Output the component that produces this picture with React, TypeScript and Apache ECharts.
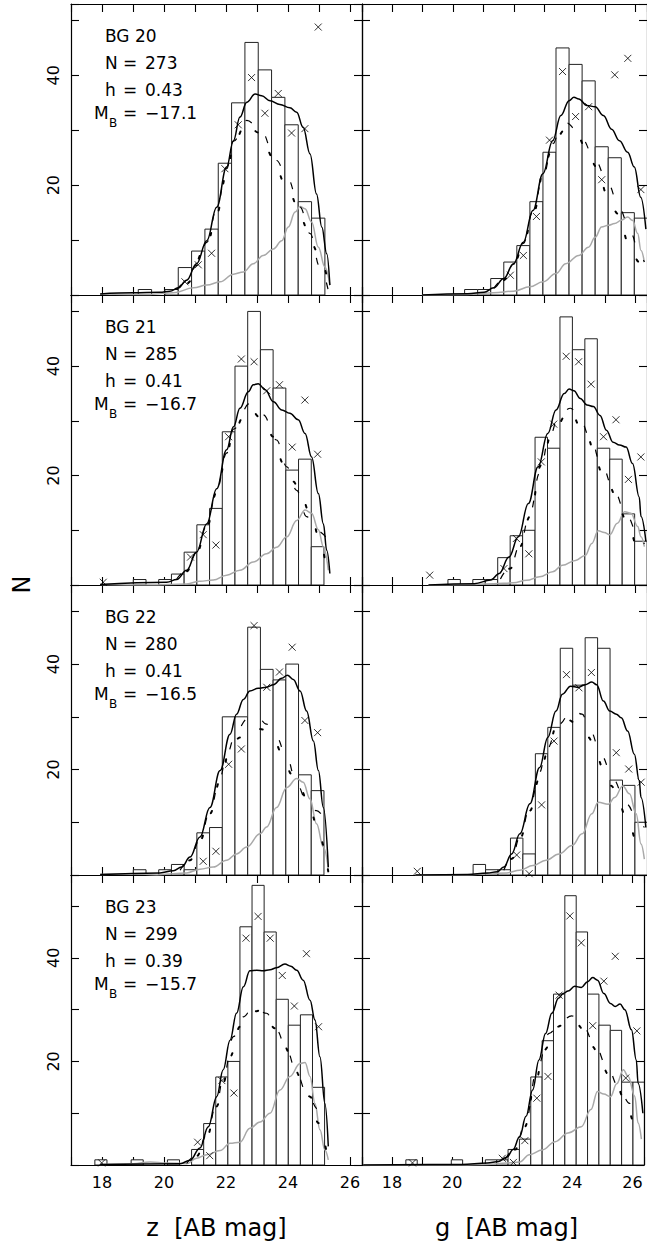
import React, { useEffect, useRef } from "react";
import * as echarts from "echarts";

// ---------- data ----------
const galaxies = ["BG 20", "BG 21", "BG 22", "BG 23"];
const nObj = ["273", "285", "280", "299"];
const hVal = ["0.43", "0.41", "0.41", "0.39"];
const mB = ["−17.1", "−16.7", "−16.5", "−15.7"];
const xTickLabels = ["18", "20", "22", "24", "26"];
const yTickLabels = ["20", "40"];
const rowYMax = [53, 53, 55, 56];
const xRange = [17, 26.387];

const zHistStart = [19.17, 19.01, 19.01, 17.77];
const zHistWidth = [0.43, 0.41, 0.41, 0.39];
const zHistCounts = [
  [1, 0, 1, 5, 8, 12, 24, 35, 46, 41, 36, 31, 17, 14],
  [1, 0, 1, 2, 6, 11, 14, 28, 40, 50, 43, 36, 21, 23, 7],
  [1, 0, 1, 2, 1, 8, 9, 30, 30, 47, 39, 37, 40, 19, 16],
  [1, 0, 0, 1, 0, 0, 1, 0, 3, 8, 17, 20, 46, 54, 45, 32, 27, 29, 15],
];
const gHistStart = [20.38, 19.83, 20.66, 18.46];
const gHistWidth = [0.43, 0.41, 0.41, 0.378];
const gHistCounts = [
  [1, 1, 3, 6, 9, 17, 26, 45, 42, 39, 27, 25, 15, 14],
  [1, 0, 1, 1, 5, 9, 10, 27, 25, 49, 43, 45, 25, 23, 13, 8],
  [2, 1, 1, 7, 4, 23, 28, 43, 36, 45, 43, 18, 17, 10],
  [1, 0, 0, 0, 1, 0, 0, 1, 1, 3, 5, 17, 24, 33, 52, 45, 33, 27, 26, 16, 16],
];

const zCross = [
  [[20.675, 2.4], [21.105, 5.5], [21.535, 7.6], [21.965, 23], [22.395, 31], [22.825, 39.6], [23.255, 33.1], [23.685, 36.7], [24.115, 29.5], [24.545, 30.3], [24.975, 48.8]],
  [[18.04, 0.5], [20.855, 5.1], [21.265, 9.2], [21.675, 7.3], [22.085, 27.1], [22.495, 41.3], [22.905, 40.8], [23.315, 35.5], [23.725, 36.6], [24.135, 25.2], [24.545, 33.8], [24.955, 23.9]],
  [[21.265, 2.6], [21.675, 4.5], [22.085, 21.0], [22.495, 23.9], [22.905, 47.3], [23.315, 35.6], [23.725, 38.5], [24.135, 43.2], [24.545, 29.3], [24.955, 27.0]],
  [[17.99, 0.4], [21.085, 4.4], [21.475, 1.8], [21.865, 16.3], [22.255, 13.9], [22.645, 43.8], [23.035, 48.0], [23.425, 43.8], [23.815, 36.6], [24.205, 30.7], [24.595, 40.8], [24.985, 26.7]],
];
const gCross = [
  [[21.885, 3.6], [22.315, 7.2], [22.745, 14.3], [23.175, 28.2], [23.605, 40.7], [24.035, 32.5], [24.465, 34.3], [24.895, 21.0], [25.325, 40.1], [25.755, 43.1], [26.185, 19.2]],
  [[19.23, 1.8], [21.675, 3.0], [22.085, 8.5], [22.495, 5.7], [22.905, 22.5], [23.315, 29.4], [23.725, 41.8], [24.135, 40.8], [24.545, 36.7], [24.955, 27.1], [25.365, 30.2], [25.775, 19.3], [26.185, 23.4]],
  [[18.82, 0.7], [22.095, 3.8], [22.505, 0.25], [22.915, 13.3], [23.325, 25.4], [23.735, 38.0], [24.145, 35.5], [24.555, 38.4], [25.375, 23.2], [25.785, 20.1], [26.195, 17.6]],
  [[18.68, 0.4], [21.67, 1.3], [22.04, 0.5], [22.42, 4.7], [22.82, 12.9], [23.19, 17.1], [23.56, 32.8], [23.92, 48.1], [24.30, 42.9], [24.68, 26.9], [25.05, 35.5], [25.43, 40.3], [25.78, 16.8], [26.15, 25.9]],
];

const zSolid = [
  [[17.94, 0.2], [19.01, 0.4], [19.87, 0.5], [20.19, 0.7], [20.46, 1.3], [20.73, 2.7], [21.05, 5.7], [21.38, 9.9], [21.70, 16.0], [22.02, 23.3], [22.24, 28.1], [22.45, 32.4], [22.67, 35.1], [22.94, 36.6], [23.15, 36.3], [23.42, 35.4], [23.74, 34.7], [24.06, 34.1], [24.28, 33.3], [24.49, 30.5], [24.71, 25.7], [24.92, 18.4], [25.09, 12.4], [25.25, 7.5], [25.35, 1.8]],
  [[17.94, 0.1], [20.09, 0.5], [20.41, 1.0], [20.73, 2.7], [21.05, 6.0], [21.38, 11.2], [21.70, 17.6], [22.02, 24.7], [22.24, 28.9], [22.45, 32.3], [22.72, 35.3], [22.88, 36.6], [23.04, 36.8], [23.26, 35.7], [23.53, 33.5], [23.80, 32.0], [24.06, 31.4], [24.33, 30.2], [24.55, 27.7], [24.76, 23.4], [24.98, 16.7], [25.14, 11.2], [25.25, 6.3], [25.35, 2.1]],
  [[17.94, 0.1], [19.87, 0.4], [20.30, 0.8], [20.57, 1.5], [20.84, 3.4], [21.16, 7.2], [21.48, 12.8], [21.81, 19.8], [22.13, 26.7], [22.34, 30.5], [22.56, 33.3], [22.77, 34.9], [23.04, 35.4], [23.31, 35.6], [23.53, 36.1], [23.80, 37.3], [23.98, 37.9], [24.17, 37.1], [24.39, 34.9], [24.60, 31.1], [24.82, 25.4], [24.98, 19.8], [25.14, 12.8], [25.30, 1.5]],
  [[17.94, 0.1], [20.52, 0.25], [20.84, 0.9], [21.16, 3.3], [21.43, 7.4], [21.70, 13.2], [21.91, 18.4], [22.13, 24.1], [22.34, 29.3], [22.56, 34.4], [22.77, 37.5], [22.99, 37.6], [23.20, 37.5], [23.42, 37.7], [23.63, 38.1], [23.90, 38.8], [24.09, 38.4], [24.28, 37.6], [24.49, 35.7], [24.71, 31.8], [24.87, 28.0], [25.03, 20.9], [25.19, 11.9], [25.30, 3.6]],
];
const zDashed = [
  [[20.41, 1.0], [20.73, 2.4], [21.05, 5.4], [21.38, 9.6], [21.70, 15.7], [22.02, 23.0], [22.24, 28.0], [22.67, 31.8], [23.10, 30.2], [23.63, 24.5], [23.96, 21.5], [24.39, 16.0], [24.71, 11.2], [25.03, 5.1], [25.30, 0.8]],
  [[20.41, 1.1], [20.73, 2.7], [21.05, 6.0], [21.38, 10.9], [21.70, 17.3], [22.02, 24.1], [22.24, 28.5], [22.77, 33.2], [23.20, 31.1], [23.63, 26.5], [23.96, 21.6], [24.28, 17.3], [24.60, 12.5], [24.92, 10.0], [25.30, 8.2]],
  [[20.52, 0.9], [20.84, 3.0], [21.16, 6.8], [21.48, 12.0], [21.81, 18.5], [22.02, 22.9], [22.34, 27.3], [22.67, 29.5], [22.99, 30.2], [23.31, 28.6], [23.63, 26.1], [23.96, 22.3], [24.28, 17.3], [24.60, 14.1], [24.92, 12.2], [25.14, 11.0]],
  [[20.73, 0.3], [21.05, 1.9], [21.38, 5.8], [21.70, 12.0], [21.91, 16.8], [22.24, 24.8], [22.56, 28.6], [22.88, 30.6], [23.31, 29.3], [23.63, 26.1], [23.96, 22.2], [24.28, 17.7], [24.60, 13.9], [24.98, 10.7], [25.30, 8.6]],
];
const zDotted = [
  [[20.41, 0.8], [20.73, 2.1], [21.38, 9.0], [21.70, 14.8], [22.02, 22.1], [22.27, 28.1], [22.67, 31.5], [23.04, 29.6], [23.20, 27.5], [23.58, 24.5], [23.85, 20.8], [24.06, 18.4], [24.44, 13.6], [24.76, 9.3], [25.03, 6.9], [25.35, 0.5]],
  [[20.41, 0.9], [20.73, 2.5], [21.05, 5.8], [21.38, 10.6], [21.70, 17.0], [22.02, 23.8], [22.24, 28.3], [22.72, 32.3], [23.20, 30.2], [23.53, 27.1], [23.85, 22.2], [24.17, 18.9], [24.44, 15.8], [24.82, 11.2], [25.03, 7.6], [25.30, 0.9]],
  [[20.52, 0.8], [20.84, 2.8], [21.16, 6.5], [21.48, 11.6], [21.81, 17.9], [22.13, 23.9], [22.45, 26.1], [22.88, 28.0], [23.20, 27.6], [23.58, 25.1], [23.85, 22.3], [24.12, 19.1], [24.39, 16.3], [24.76, 11.6], [24.98, 7.8], [25.30, 0.6]],
  [[20.73, 0.25], [21.05, 1.7], [21.38, 5.5], [21.70, 11.3], [21.91, 15.8], [22.13, 20.9], [22.45, 26.7], [22.83, 29.6], [23.20, 29.9], [23.58, 26.4], [23.90, 22.8], [24.12, 20.3], [24.39, 17.1], [24.71, 13.2], [24.98, 8.1], [25.30, 0.4]],
];
const zGray = [
  [[17.94, 0.2], [19.55, 0.1], [20.30, 0.4], [20.95, 1.3], [21.38, 1.8], [21.81, 2.4], [22.24, 3.8], [22.56, 4.2], [22.88, 5.7], [23.20, 7.2], [23.53, 8.4], [23.80, 9.9], [24.01, 12.4], [24.23, 15.1], [24.39, 16.1], [24.55, 15.7], [24.76, 13.3], [24.98, 8.7], [25.19, 5.1], [25.35, 1.8]],
  [[17.94, 0.1], [19.55, 0], [20.73, 0.2], [21.16, 0.7], [21.59, 0.9], [22.02, 1.8], [22.45, 2.7], [22.88, 4.2], [23.31, 5.7], [23.63, 6.9], [23.96, 8.8], [24.28, 11.8], [24.55, 13.7], [24.76, 13.1], [24.98, 10.1], [25.14, 7.0], [25.30, 2.7]],
  [[17.94, 0.1], [19.01, 0.25], [19.77, 0], [20.30, 0.25], [20.73, 0.4], [21.16, 1.1], [21.59, 1.5], [22.02, 2.8], [22.34, 4.0], [22.67, 5.3], [23.10, 7.8], [23.31, 9.1], [23.63, 12.8], [23.96, 16.6], [24.28, 18.3], [24.49, 17.6], [24.71, 14.4], [24.92, 9.7], [25.14, 5.3], [25.30, 1.2]],
  [[17.94, 0.1], [19.01, 0.25], [19.55, 0.6], [20.09, 0.4], [20.73, 0.25], [21.05, 1.3], [21.38, 2.0], [21.81, 2.8], [22.13, 4.2], [22.45, 4.4], [22.77, 7.1], [23.10, 8.3], [23.42, 10.0], [23.74, 14.5], [24.06, 17.1], [24.39, 19.6], [24.55, 19.8], [24.71, 17.1], [24.87, 11.9], [25.03, 6.8], [25.19, 2.9], [25.30, 1.0]],
];

const gSolid = [
  [[18.98, 0], [20.48, 0.25], [21.02, 0.5], [21.34, 1.3], [21.67, 3.0], [21.99, 5.7], [22.31, 9.6], [22.63, 15.4], [22.96, 22.1], [23.28, 28.1], [23.55, 32.7], [23.82, 35.4], [23.98, 36.0], [24.14, 35.7], [24.41, 34.5], [24.68, 34.3], [24.95, 32.7], [25.22, 30.2], [25.48, 28.1], [25.75, 26.0], [25.97, 23.3], [26.18, 17.8], [26.35, 12]],
  [[19.19, 0], [20.70, 0.25], [21.24, 0.9], [21.52, 2.1], [21.84, 5.1], [22.15, 8.8], [22.48, 14.9], [22.80, 21.6], [23.12, 27.7], [23.39, 32.0], [23.66, 35.0], [23.82, 35.8], [23.98, 35.5], [24.19, 34.1], [24.41, 32.9], [24.62, 32.6], [24.84, 31.0], [25.05, 28.3], [25.27, 26.1], [25.48, 25.6], [25.70, 25.2], [25.91, 22.2], [26.13, 16.1], [26.19, 12.5], [26.35, 8]],
  [[18.76, 0], [20.48, 0.1], [21.13, 0.4], [21.45, 0.6], [21.67, 1.5], [21.93, 4.0], [22.20, 7.8], [22.53, 13.5], [22.85, 20.4], [23.12, 26.1], [23.39, 31.1], [23.60, 34.3], [23.87, 35.8], [24.14, 35.6], [24.35, 36.1], [24.57, 36.6], [24.73, 36.1], [24.95, 33.0], [25.16, 31.1], [25.38, 30.5], [25.54, 29.8], [25.75, 27.3], [25.97, 22.9], [26.13, 17.9], [26.19, 14.7], [26.35, 9]],
  [[17.04, 0], [20.31, 0.1], [21.17, 0.4], [21.55, 0.7], [21.82, 1.5], [22.03, 3.0], [22.25, 5.5], [22.46, 9.4], [22.68, 14.5], [22.89, 20.3], [23.11, 25.4], [23.32, 29.3], [23.54, 32.2], [23.70, 33.1], [23.86, 33.6], [24.08, 34.5], [24.30, 34.3], [24.51, 35.4], [24.68, 36.2], [24.84, 35.7], [25.05, 33.1], [25.27, 31.2], [25.43, 30.6], [25.59, 31.1], [25.75, 30.0], [25.97, 26.1], [26.13, 20.3], [26.19, 15.8], [26.35, 10]],
];
const gDashed = [
  [[21.34, 1.2], [21.67, 2.9], [21.99, 5.6], [22.31, 9.4], [22.63, 15.2], [22.96, 21.5], [23.28, 27.5], [23.55, 30.8], [23.76, 31.3], [24.03, 30.2], [24.25, 28.4], [24.68, 24.5], [25.11, 20.2], [25.48, 15.7], [25.86, 11.2], [26.13, 7.5], [26.3, 6]],
  [[21.56, 1.1], [21.88, 3.2], [22.20, 7.3], [22.53, 13.0], [22.85, 20.5], [23.17, 27.0], [23.49, 31.1], [23.87, 32.3], [24.19, 30.2], [24.52, 26.8], [24.89, 21.9], [25.32, 17.0], [25.70, 12.8], [26.13, 8.8], [26.3, 7.5]],
  [[21.67, 0.9], [21.94, 3.3], [22.20, 7.2], [22.53, 12.8], [22.85, 19.5], [23.06, 23.6], [23.49, 28.6], [23.92, 31.4], [24.25, 30.5], [24.52, 27.3], [24.89, 22.6], [25.27, 18.2], [25.70, 13.5], [26.13, 10.0], [26.3, 9]],
  [[21.77, 1.1], [22.10, 3.2], [22.42, 7.8], [22.85, 19.0], [23.23, 25.4], [23.60, 27.7], [23.98, 28.8], [24.35, 27.0], [24.73, 23.5], [25.16, 19.0], [25.54, 15.1], [25.91, 11.9], [26.19, 10.7], [26.3, 10]],
];
const gDotted = [
  [[21.34, 1.1], [21.67, 2.7], [21.99, 5.4], [22.31, 9.0], [22.63, 14.8], [23.06, 24.5], [23.33, 28.1], [23.71, 30.2], [24.09, 29.0], [24.41, 26.3], [24.73, 23.3], [25.11, 17.8], [25.43, 14.8], [25.81, 9.0], [26.13, 6.0], [26.3, 4]],
  [[21.56, 1.0], [21.88, 3.0], [22.20, 7.0], [22.53, 12.5], [22.90, 21.9], [23.28, 28.3], [23.87, 32.0], [24.19, 28.9], [24.46, 26.5], [24.68, 23.4], [24.89, 20.7], [25.16, 17.9], [25.43, 14.9], [25.70, 11.8], [26.13, 6.3], [26.3, 5]],
  [[21.67, 0.8], [21.94, 3.1], [22.20, 6.9], [22.53, 12.2], [22.85, 18.5], [23.12, 23.5], [23.39, 28.0], [23.63, 29.8], [24.12, 28.7], [24.46, 26.1], [24.68, 23.6], [24.95, 20.1], [25.22, 16.9], [25.43, 14.1], [25.70, 11.0], [26.13, 5.3], [26.3, 4]],
  [[21.77, 1.0], [22.10, 3.0], [22.42, 7.4], [22.74, 15.0], [23.06, 22.2], [23.49, 26.7], [23.98, 28.3], [24.41, 26.1], [24.68, 22.8], [24.95, 19.6], [25.22, 17.4], [25.48, 15.1], [25.75, 12.6], [26.08, 8.1], [26.3, 6]],
];
const gGray = [
  [[18.98, 0], [20.48, 0.1], [21.34, 0.4], [21.99, 0.7], [22.53, 1.5], [22.96, 2.4], [23.39, 3.9], [23.71, 5.7], [24.14, 7.2], [24.46, 8.7], [24.68, 10.5], [24.89, 12.4], [25.11, 12.7], [25.32, 13.0], [25.54, 13.6], [25.75, 14.2], [25.91, 13.6], [26.08, 11.2], [26.19, 8.1], [26.3, 6]],
  [[19.19, 0], [20.70, 0.1], [21.34, 0.25], [21.99, 0.4], [22.42, 0.85], [22.85, 1.5], [23.28, 2.4], [23.60, 3.6], [24.03, 4.5], [24.35, 5.4], [24.57, 7.6], [24.78, 9.9], [24.98, 9.6], [25.16, 9.2], [25.41, 11.3], [25.65, 13.4], [25.86, 13.1], [26.08, 10.7], [26.19, 8.8], [26.3, 7]],
  [[18.76, 0], [20.48, 0], [21.13, 0.25], [21.77, 0.4], [22.20, 0.9], [22.63, 1.8], [23.06, 2.8], [23.49, 4.0], [23.92, 5.6], [24.25, 7.8], [24.57, 11.6], [24.78, 13.8], [25.11, 13.4], [25.32, 14.7], [25.59, 16.9], [25.81, 15.4], [26.03, 11.6], [26.19, 5.9], [26.3, 3]],
  [[17.04, 0], [20.31, 0], [21.17, 0.1], [21.82, 0.4], [22.25, 0.6], [22.57, 2.0], [23.00, 2.9], [23.43, 4.5], [23.86, 6.2], [24.30, 7.4], [24.62, 10.7], [24.84, 14.2], [25.05, 13.7], [25.27, 13.2], [25.48, 15.7], [25.70, 18.4], [25.86, 17.1], [26.08, 13.3], [26.19, 8.1], [26.3, 5]],
];

// ---------- layout ----------
const ROW_TOP = [4, 295, 585, 875];
const ROW_H = [291, 290, 290, 290];
const COL_LEFT = [71, 362];
const PANEL_W = 291;
const FONT = '"DejaVu Sans", "Liberation Sans", sans-serif';

function histData(start: number, w: number, counts: number[]) {
  const out: number[][] = [];
  counts.forEach((n, i) => {
    if (n > 0) out.push([start + i * w, start + (i + 1) * w, n]);
  });
  return out;
}

export default function App() {
  const ref = useRef<HTMLDivElement>(null);
  useEffect(() => {
    const chart = echarts.init(ref.current!, null, { renderer: "svg" });
    const grid: any[] = [];
    const xAxis: any[] = [];
    const yAxis: any[] = [];
    const series: any[] = [];
    const graphic: any[] = [];
    const axisLine = { show: true, onZero: false, lineStyle: { color: "#000", width: 1.2 } };
    const axisTick = { show: true, inside: true, length: 8, lineStyle: { color: "#000", width: 1.1 } };

    for (let r = 0; r < 4; r++) {
      for (let c = 0; c < 2; c++) {
        const p = r * 2 + c;
        grid.push({ left: COL_LEFT[c], top: ROW_TOP[r], width: PANEL_W, height: ROW_H[r] });
        const xBase = {
          type: "value", gridIndex: p, min: xRange[0], max: xRange[1], interval: 1,
          axisLine, axisTick, splitLine: { show: false },
        };
        xAxis.push({
          ...xBase, position: "bottom",
          axisLabel: {
            show: r === 3, interval: 0, margin: 9, color: "#000", fontFamily: FONT, fontSize: 16,
            formatter: (v: number) => (xTickLabels.includes(String(v)) ? String(v) : ""),
          },
        });
        xAxis.push({ ...xBase, position: "top", axisLabel: { show: false } });
        const yBase = {
          type: "value", gridIndex: p, min: 0, max: rowYMax[r], interval: 10,
          axisLine, axisTick, splitLine: { show: false },
        };
        yAxis.push({
          ...yBase, position: "left",
          axisLabel: {
            show: c === 0, rotate: 90, margin: 10, color: "#000", fontFamily: FONT, fontSize: 16,
            formatter: (v: number) => (yTickLabels.includes(String(v)) ? String(v) : ""),
          },
        });
        yAxis.push({ ...yBase, position: "right", axisLabel: { show: false } });

        const hs = c === 0 ? zHistStart[r] : gHistStart[r];
        const hw = c === 0 ? zHistWidth[r] : gHistWidth[r];
        const hc = c === 0 ? zHistCounts[r] : gHistCounts[r];
        const ax = { xAxisIndex: 2 * p, yAxisIndex: 2 * p };
        series.push({
          type: "custom", ...ax, z: 1, clip: true,
          data: histData(hs, hw, hc),
          encode: { x: [0, 1], y: 2 },
          renderItem: (_params: any, api: any) => {
            const a = api.coord([api.value(0), api.value(2)]);
            const b = api.coord([api.value(1), 0]);
            return {
              type: "rect",
              shape: { x: a[0], y: a[1], width: b[0] - a[0], height: b[1] - a[1] },
              style: { fill: "#fff", stroke: "#222", lineWidth: 1 },
            };
          },
        });
        const lineBase = { type: "line", ...ax, showSymbol: false, smooth: 0.4, smoothMonotone: "x", clip: true, silent: true };
        series.push({
          ...lineBase, z: 2, data: c === 0 ? zGray[r] : gGray[r],
          lineStyle: { color: "#a9a9a9", width: 1.5 },
        });
        series.push({
          ...lineBase, z: 3, data: c === 0 ? zDashed[r] : gDashed[r],
          lineStyle: { color: "#000", width: 1.2, type: [7, 20] },
        });
        series.push({
          ...lineBase, z: 3, data: c === 0 ? zDotted[r] : gDotted[r],
          lineStyle: { color: "#000", width: 2, type: [2.5, 24.5], cap: "round", dashOffset: -14 },
        });
        series.push({
          ...lineBase, z: 4, data: c === 0 ? zSolid[r] : gSolid[r],
          lineStyle: { color: "#000", width: 1.5 },
        });
        series.push({
          type: "scatter", ...ax, z: 5, silent: true,
          data: c === 0 ? zCross[r] : gCross[r],
          symbol: "path://M0,0L10,10M10,0L0,10",
          symbolSize: 7,
          itemStyle: { color: "transparent", borderColor: "#000", borderWidth: 1 },
        });
      }
      // annotations
      const T = ROW_TOP[r];
      const txt = (x: number, y: number, text: string, size = 17) => ({
        type: "text", x, y, silent: true,
        style: { text, fill: "#000", font: `${size}px ${FONT}`, align: "left", verticalAlign: "middle" },
      });
      graphic.push(txt(105, T + 31.5, galaxies[r]));
      graphic.push(txt(105, T + 58.5, "N"));
      graphic.push(txt(123, T + 58.5, "="));
      graphic.push(txt(145, T + 58.5, nObj[r]));
      graphic.push(txt(105, T + 86, "h"));
      graphic.push(txt(123, T + 86, "="));
      graphic.push(txt(145, T + 86, hVal[r]));
      graphic.push(txt(94, T + 109, "M"));
      graphic.push(txt(109, T + 119, "B", 12));
      graphic.push(txt(123, T + 109, "="));
      graphic.push(txt(145, T + 109, mB[r]));
    }
    graphic.push({
      type: "text", x: 216.5, y: 1228, silent: true,
      style: { text: "z  [AB mag]", fill: "#000", font: `24px ${FONT}`, align: "center", verticalAlign: "middle" },
    });
    graphic.push({
      type: "text", x: 506.5, y: 1228, silent: true,
      style: { text: "g  [AB mag]", fill: "#000", font: `24px ${FONT}`, align: "center", verticalAlign: "middle" },
    });
    graphic.push({
      type: "text", x: 22, y: 584.5, rotation: Math.PI / 2, silent: true,
      style: { text: "N", fill: "#000", font: `24px ${FONT}`, align: "center", verticalAlign: "middle" },
    });

    chart.setOption({
      animation: false,
      backgroundColor: "#fff",
      grid, xAxis, yAxis, series, graphic,
    });
    return () => chart.dispose();
  }, []);
  return (
    <div
      ref={ref}
      style={{ position: "absolute", left: 0, top: 0, width: 647, height: 1247, background: "#fff" }}
    />
  );
}
